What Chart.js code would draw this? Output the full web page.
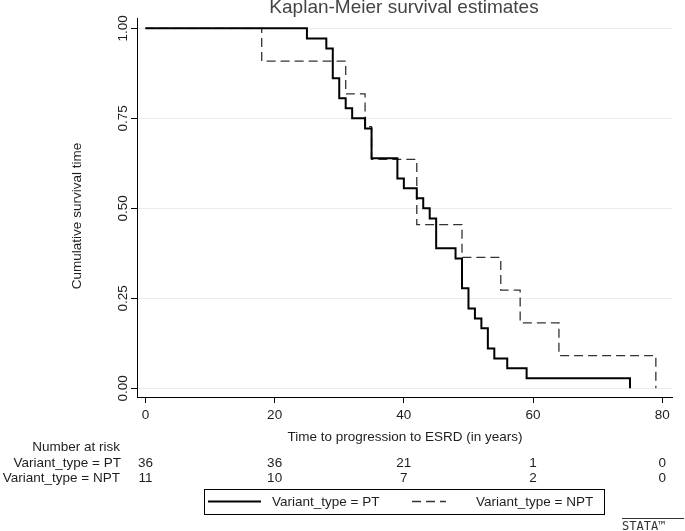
<!DOCTYPE html>
<html>
<head>
<meta charset="utf-8">
<script src="https://cdn.jsdelivr.net/npm/chart.js@4"></script>
<style>
    body { margin: 0; background: #fff; }
    canvas { display: block; }
</style>
</head>
<body>
<canvas id="km" width="685" height="531"></canvas>
<script>
// данные кривых
const seriesNames = ['Variant_type = PT', 'Variant_type = NPT'];

const ptTimes = [0, 25, 28, 29, 30, 31, 32, 34, 35, 39, 40, 42, 43, 44, 45, 48, 49, 50, 51, 52, 53, 54, 56, 59, 75];
const ptSurv = [1, 0.972, 0.944, 0.861, 0.806, 0.778, 0.750, 0.722, 0.639, 0.583, 0.556, 0.528, 0.500, 0.472, 0.389, 0.361, 0.278, 0.222, 0.194, 0.167, 0.111, 0.083, 0.056, 0.028, 0];

const nptTimes = [0, 18, 31, 34, 35, 42, 49, 55, 58, 64, 79];
const nptSurv = [1, 0.909, 0.818, 0.727, 0.636, 0.455, 0.364, 0.273, 0.182, 0.091, 0];

const xTicks = [0, 20, 40, 60, 80];
const yTicks = [0, 0.25, 0.5, 0.75, 1];
const yTickLabels = ['0.00', '0.25', '0.50', '0.75', '1.00'];

// таблица "Number at risk"
const riskTimes = [0, 20, 40, 60, 80];
const ptAtRisk = [36, 36, 21, 1, 0];
const nptAtRisk = [11, 10, 7, 2, 0];

const FONT = '"Liberation Sans", Arial, sans-serif';
const TEXT = '#1e1e1e';
const FS = 13.5;

function toPoints(times, surv) {
    return times.map((t, i) => ({ x: t, y: surv[i] }));
}

// всё, что Chart.js сам не рисует: заголовок, подписи оси Y, таблица, легенда
const extras = {
    id: 'extras',
    afterDraw(chart) {
        const c = chart.ctx;
        const xs = chart.scales.x;
        const ys = chart.scales.y;
        c.save();

        // заголовок
        c.fillStyle = '#444';
        c.font = '19px ' + FONT;
        c.textAlign = 'center';
        c.textBaseline = 'alphabetic';
        c.fillText('Kaplan-Meier survival estimates', 404, 13);

        // подписи оси Y, повернутые
        c.fillStyle = TEXT;
        c.font = FS + 'px ' + FONT;
        c.textBaseline = 'middle';
        yTicks.forEach((v, i) => {
            c.save();
            c.translate(123, ys.getPixelForValue(v));
            c.rotate(-Math.PI / 2);
            c.fillText(yTickLabels[i], 0, 0);
            c.restore();
        });

        c.save();
        c.translate(77, 216);
        c.rotate(-Math.PI / 2);
        c.fillText('Cumulative survival time', 0, 0);
        c.restore();

        // подпись оси X
        c.textBaseline = 'alphabetic';
        c.fillText('Time to progression to ESRD (in years)', 405, 440.5);

        // number at risk
        c.textAlign = 'right';
        c.fillText('Number at risk', 120, 450.5);
        c.fillText(seriesNames[0], 121, 466.5);
        c.fillText(seriesNames[1], 120, 481.5);
        c.textAlign = 'center';
        riskTimes.forEach((t, i) => {
            const px = xs.getPixelForValue(t);
            c.fillText(String(ptAtRisk[i]), px, 466.5);
            c.fillText(String(nptAtRisk[i]), px, 481.5);
        });

        // легенда
        c.strokeStyle = '#000';
        c.lineWidth = 1;
        c.strokeRect(204.5, 489.5, 400, 25);

        c.beginPath();
        c.lineWidth = 2;
        c.moveTo(208, 501.5);
        c.lineTo(261, 501.5);
        c.stroke();

        c.beginPath();
        c.lineWidth = 1.3;
        c.strokeStyle = '#333';
        c.setLineDash([9, 5]);
        c.moveTo(412, 501.5);
        c.lineTo(446, 501.5);
        c.stroke();
        c.setLineDash([]);

        c.textAlign = 'left';
        c.textBaseline = 'middle';
        c.fillStyle = TEXT;
        c.fillText(seriesNames[0], 272, 502);
        c.fillText(seriesNames[1], 476, 502);

        // логотип
        c.strokeStyle = '#333';
        c.lineWidth = 1;
        c.beginPath();
        c.moveTo(622, 518.5);
        c.lineTo(684, 518.5);
        c.stroke();
        c.fillStyle = '#333';
        c.font = '12px "DejaVu Sans Mono", monospace';
        c.textAlign = 'left';
        c.textBaseline = 'alphabetic';
        c.fillText('STATA\u2122', 622, 530);

        c.restore();
    }
};

const ctx = document.getElementById('km');
new Chart(ctx, {
    type: 'line',
    data: {
        datasets: [
            {
                label: seriesNames[0],
                data: toPoints(ptTimes, ptSurv),
                stepped: 'before',
                borderColor: '#000',
                borderWidth: 2,
                pointRadius: 0,
                fill: false
            },
            {
                label: seriesNames[1],
                data: toPoints(nptTimes, nptSurv),
                stepped: 'before',
                borderColor: '#333',
                borderWidth: 1.3,
                borderDash: [9, 5],
                pointRadius: 0,
                fill: false
            }
        ]
    },
    options: {
        responsive: false,
        animation: false,
        layout: { padding: { top: 18, right: 13, left: 0, bottom: 0 } },
        plugins: {
            legend: { display: false },
            title: { display: false },
            tooltip: { enabled: false }
        },
        scales: {
            x: {
                type: 'linear',
                min: -1.3,
                max: 81.5,
                afterBuildTicks: (s) => { s.ticks = xTicks.map(v => ({ value: v })); },
                afterFit: (s) => { s.height = 134; },
                grid: { drawOnChartArea: false, tickLength: 6, color: '#000' },
                border: { color: '#000', width: 1 },
                ticks: { color: TEXT, padding: 4, maxRotation: 0, font: { family: FONT, size: FS } }
            },
            y: {
                type: 'linear',
                min: -0.024,
                max: 1.0286,
                afterBuildTicks: (s) => { s.ticks = yTicks.map(v => ({ value: v })); },
                afterFit: (s) => { s.width = 137; },
                grid: { color: '#ececec', tickColor: '#000', tickLength: 6 },
                border: { color: '#000', width: 1 },
                ticks: { display: false }
            }
        }
    },
    plugins: [extras]
});
</script>
</body>
</html>
